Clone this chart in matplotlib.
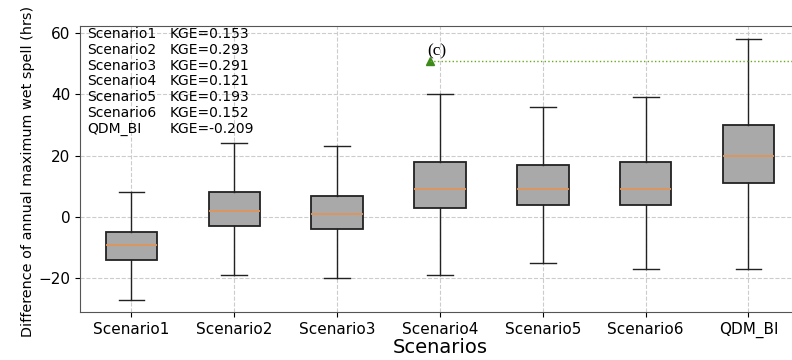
import matplotlib
matplotlib.use("Agg")
import matplotlib.pyplot as plt

scenarios = ["Scenario1", "Scenario2", "Scenario3", "Scenario4",
             "Scenario5", "Scenario6", "QDM_BI"]
whislo = [-27, -19, -20, -19, -15, -17, -17]
q1 = [-14, -3, -4, 3, 4, 4, 11]
med = [-9, 2, 1, 9, 9, 9, 20]
q3 = [-5, 8, 7, 18, 17, 18, 30]
whishi = [8, 24, 23, 40, 36, 39, 58]
kge = ["0.153", "0.293", "0.291", "0.121", "0.193", "0.152", "-0.209"]

ref_x = 3.9
ref_y = 51

fig = plt.figure(figsize=(7.92, 3.6), dpi=100)
ax = fig.add_axes([0.101, 0.133, 0.909, 0.795])

stats = [dict(label=s, whislo=a, q1=b, med=c, q3=d, whishi=e, fliers=[])
         for s, a, b, c, d, e in zip(scenarios, whislo, q1, med, q3, whishi)]
ax.bxp(stats, widths=0.5, patch_artist=True, showfliers=False,
       boxprops=dict(facecolor="#a9a9a9", edgecolor="#222222", linewidth=1.3),
       medianprops=dict(color="#e0955a", linewidth=1.3),
       whiskerprops=dict(color="#222222", linewidth=1.0),
       capprops=dict(color="#222222", linewidth=1.0))

ax.plot([ref_x], [ref_y], marker="^", color="#3d8a1a", markersize=6)
ax.plot([ref_x, 8], [ref_y, ref_y], ":", color="#6aaa1a", linewidth=1.0)
ax.text(ref_x - 0.02, ref_y + 0.5, "(c)", family="Liberation Serif",
        fontsize=12.5, ha="left", va="bottom")

for i, (s, k) in enumerate(zip(scenarios, kge)):
    y = 0.972 - i * 0.0552
    ax.text(0.010, y, s, transform=ax.transAxes, fontsize=10, va="center")
    ax.text(0.124, y, "KGE=" + k, transform=ax.transAxes, fontsize=10, va="center")

ax.set_xlim(0.5, 7.5)
ax.set_ylim(-31, 62.3)
ax.set_yticks([-20, 0, 20, 40, 60])
ax.tick_params(labelsize=11)
ax.grid(True, linestyle="--", color="#cccccc", linewidth=0.8)
ax.set_axisbelow(True)
ax.set_xlabel("Scenarios", fontsize=14, labelpad=0)
ax.set_ylabel("Difference of annual maximum wet spell (hrs)", fontsize=10.4)
ax.yaxis.set_label_coords(-0.062, 0.49)
for sp in ax.spines.values():
    sp.set_color("#555555")

fig.savefig("out.png", dpi=100)
